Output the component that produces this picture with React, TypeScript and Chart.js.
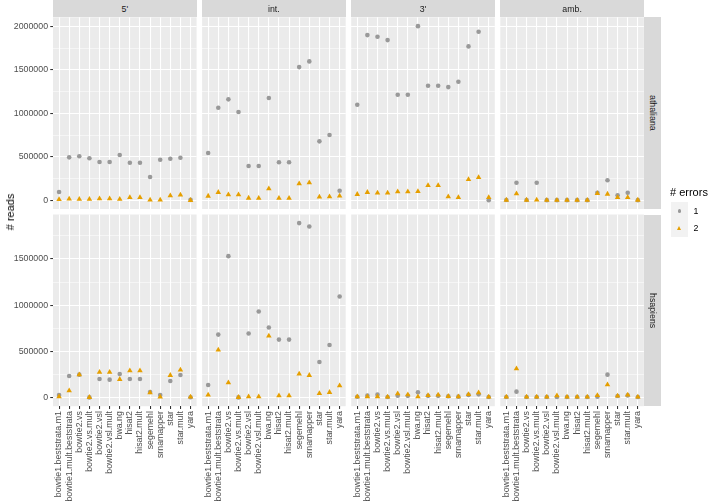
import React, { useEffect, useRef } from "react";
import { Chart, registerables } from "chart.js";

Chart.register(...registerables);

const categories = [
  "bowtie1.beststrata.m1",
  "bowtie1.mult.beststrata",
  "bowtie2.vs",
  "bowtie2.vs.mult",
  "bowtie2.vsl",
  "bowtie2.vsl.mult",
  "bwa.ng",
  "hisat2",
  "hisat2.mult",
  "segemehl",
  "srnamapper",
  "star",
  "star.mult",
  "yara",
];
const regions = ["5'", "int.", "3'", "amb."];
const species = ["athaliana", "hsapiens"];
const errorLevels = ["1", "2"];

// athaliana
const athal5pErr1 = [95000, 494000, 506000, 483000, 440000, 440000, 521000, 432000, 432000, 268000, 467000, 478000, 490000, 5000];
const athal5pErr2 = [10000, 15000, 12000, 12000, 18000, 18000, 12000, 34000, 34000, 5000, 5000, 53000, 61000, 0];
const athalIntErr1 = [544000, 1064000, 1161000, 1015000, 394000, 394000, 1176000, 437000, 437000, 1532000, 1598000, 678000, 751000, 110000];
const athalIntErr2 = [49000, 92000, 64000, 64000, 26000, 25000, 134000, 25000, 25000, 191000, 203000, 38000, 42000, 50000];
const athal3pErr1 = [1099000, 1900000, 1881000, 1843000, 1214000, 1214000, 2003000, 1317000, 1317000, 1302000, 1363000, 1770000, 1938000, 2000];
const athal3pErr2 = [69000, 92000, 84000, 84000, 99000, 99000, 103000, 172000, 172000, 42000, 34000, 241000, 264000, 34000];
const athalAmbErr1 = [3000, 202000, 3000, 202000, 2000, 2000, 2000, 2000, 2000, 87000, 230000, 57000, 87000, 2000];
const athalAmbErr2 = [3000, 76000, 3000, 5000, 1000, 1000, 1000, 1000, 1000, 80000, 72000, 34000, 34000, 3000];

// hsapiens
const hsap5pErr1 = [29000, 235000, 249000, 3000, 202000, 195000, 256000, 202000, 202000, 62000, 29000, 181000, 246000, 5000];
const hsap5pErr2 = [11000, 76000, 249000, 4000, 275000, 275000, 199000, 292000, 292000, 54000, 8000, 242000, 300000, 8000];
const hsapIntErr1 = [137000, 682000, 1530000, 3000, 693000, 931000, 758000, 628000, 628000, 1887000, 1851000, 386000, 570000, 1093000];
const hsapIntErr2 = [29000, 516000, 163000, 4000, 11000, 11000, 668000, 22000, 22000, 256000, 242000, 47000, 58000, 130000];
const hsap3pErr1 = [10000, 22000, 33000, 8000, 22000, 20000, 58000, 20000, 20000, 15000, 11000, 30000, 36000, 8000];
const hsap3pErr2 = [10000, 11000, 11000, 8000, 43000, 33000, 11000, 25000, 29000, 15000, 11000, 36000, 54000, 8000];
const hsapAmbErr1 = [8000, 65000, 8000, 8000, 8000, 8000, 8000, 8000, 8000, 11000, 249000, 18000, 25000, 8000];
const hsapAmbErr2 = [8000, 314000, 8000, 8000, 8000, 22000, 8000, 8000, 8000, 25000, 141000, 18000, 29000, 8000];

const athalTicks = [0, 500000, 1000000, 1500000, 2000000];
const hsapTicks = [0, 500000, 1000000, 1500000];

const series = [
  [
    [athal5pErr1, athal5pErr2],
    [athalIntErr1, athalIntErr2],
    [athal3pErr1, athal3pErr2],
    [athalAmbErr1, athalAmbErr2],
  ],
  [
    [hsap5pErr1, hsap5pErr2],
    [hsapIntErr1, hsapIntErr2],
    [hsap3pErr1, hsap3pErr2],
    [hsapAmbErr1, hsapAmbErr2],
  ],
];
const rowTicks = [athalTicks, hsapTicks];
const rowRange = [
  [-100000, 2105000],
  [-92000, 1980000],
];

// layout
const W = 708;
const H = 502;
const PANEL_LEFT = [53, 202.1, 351.2, 500.3];
const PANEL_W = 143.6;
const ROW_TOP = [17.3, 214.5];
const ROW_H = 191.7;
const FONT = "'Liberation Sans', Arial, Helvetica, sans-serif";

Chart.defaults.font.family = FONT;

const bgPlugin = {
  id: "panelBg",
  beforeDraw(chart: any) {
    const { ctx, chartArea } = chart;
    ctx.save();
    ctx.fillStyle = "#ebebeb";
    ctx.fillRect(chartArea.left, chartArea.top, chartArea.right - chartArea.left, chartArea.bottom - chartArea.top);
    ctx.restore();
  },
};

function withMinor(ticks: number[], max: number) {
  const out: number[] = [];
  const step = ticks[1] - ticks[0];
  for (let i = 0; i < ticks.length; i++) {
    out.push(ticks[i]);
    if (ticks[i] + step / 2 <= max) out.push(ticks[i] + step / 2);
  }
  return out;
}

function Panel({ row, col }: { row: number; col: number }) {
  const ref = useRef<HTMLCanvasElement>(null);
  useEffect(() => {
    const left = PANEL_LEFT[col];
    const top = ROW_TOP[row];
    const bottomSpace = H - top - ROW_H;
    const [e1, e2] = series[row][col];
    const [ymin, ymax] = rowRange[row];
    const majors = rowTicks[row];
    const allY = withMinor(majors, ymax);
    const isMajor = (v: number) => majors.indexOf(v) >= 0;
    const showY = col === 0;
    const showX = row === 1;
    const chart = new Chart(ref.current!, {
      type: "scatter",
      data: {
        datasets: [
          {
            label: errorLevels[0],
            data: e1.map((v, i) => ({ x: i, y: v })),
            pointStyle: "circle",
            pointRadius: 2.3,
            backgroundColor: "#999999",
            borderWidth: 0,
            order: 2,
          },
          {
            label: errorLevels[1],
            data: e2.map((v, i) => ({ x: i, y: v })),
            pointStyle: "triangle",
            pointRadius: 3.2,
            backgroundColor: "#E69F00",
            borderWidth: 0,
            order: 1,
          },
        ],
      },
      options: {
        animation: false,
        responsive: false,
        events: [],
        layout: {
          padding: {
            left: showY ? 0 : left,
            top: top,
            right: W - left - PANEL_W,
            bottom: showX ? 0 : bottomSpace,
          },
        },
        plugins: {
          legend: { display: false },
          tooltip: { enabled: false },
        },
        scales: {
          x: {
            type: "linear",
            min: -0.6,
            max: categories.length - 1 + 0.6,
            afterBuildTicks: (ax: any) => {
              ax.ticks = categories.map((_, i) => ({ value: i }));
            },
            afterFit: (s: any) => {
              s.height = showX ? bottomSpace : 0;
            },
            border: { display: false },
            grid: {
              color: "#ffffff",
              lineWidth: 1.07,
              drawTicks: showX,
              tickLength: 2.75,
              tickColor: "#333333",
              tickWidth: 1.07,
            },
            ticks: {
              display: showX,
              autoSkip: false,
              minRotation: 90,
              maxRotation: 90,
              padding: 2.2,
              color: "#4d4d4d",
              font: { family: FONT, size: 8.8 },
              callback: (v: any) => categories[v as number],
            },
          },
          y: {
            type: "linear",
            min: ymin,
            max: ymax,
            afterBuildTicks: (ax: any) => {
              ax.ticks = allY.map((v) => ({ value: v }));
            },
            afterFit: (s: any) => {
              s.width = showY ? left : 0;
            },
            border: { display: false },
            grid: {
              color: "#ffffff",
              lineWidth: (ctx: any) => (ctx.tick && isMajor(ctx.tick.value) ? 1.07 : 0.53),
              drawTicks: showY,
              tickLength: 2.75,
              tickColor: (ctx: any) => (ctx.tick && isMajor(ctx.tick.value) ? "#333333" : "rgba(0,0,0,0)"),
              tickWidth: 1.07,
            },
            ticks: {
              display: showY,
              autoSkip: false,
              padding: 2.2,
              color: "#4d4d4d",
              font: { family: FONT, size: 8.8 },
              callback: (v: any) => (isMajor(v as number) ? String(v) : ""),
            },
          },
        },
      },
      plugins: [bgPlugin],
    });
    return () => chart.destroy();
  }, [row, col]);
  return (
    <canvas
      ref={ref}
      width={W}
      height={H}
      style={{ position: "absolute", left: 0, top: 0, width: W, height: H }}
    />
  );
}

export default function App() {
  const panels: React.ReactNode[] = [];
  for (let r = 0; r < 2; r++) for (let c = 0; c < 4; c++) panels.push(<Panel key={`${r}-${c}`} row={r} col={c} />);
  const stripText: React.CSSProperties = {
    position: "absolute",
    background: "#d9d9d9",
    color: "#1a1a1a",
    fontSize: 8.8,
    fontFamily: FONT,
    display: "flex",
    alignItems: "center",
    justifyContent: "center",
    overflow: "hidden",
  };
  return (
    <div style={{ position: "absolute", left: 0, top: 0, width: W, height: H, background: "#ffffff", fontFamily: FONT }}>
      {panels}
      {regions.map((r, i) => (
        <div key={r} style={{ ...stripText, left: PANEL_LEFT[i], top: 0, width: PANEL_W, height: ROW_TOP[0] }}>
          {r}
        </div>
      ))}
      {species.map((s, i) => (
        <div
          key={s}
          style={{
            ...stripText,
            left: PANEL_LEFT[3] + PANEL_W,
            top: ROW_TOP[i],
            width: 17.6,
            height: ROW_H,
          }}
        >
          <span style={{ writingMode: "vertical-rl", whiteSpace: "nowrap" }}>{s}</span>
        </div>
      ))}
      <div
        style={{
          position: "absolute",
          left: 10,
          top: (ROW_TOP[0] + ROW_TOP[1] + ROW_H) / 2,
          transform: "translate(-50%, -50%) rotate(-90deg)",
          fontSize: 11,
          color: "#000",
          whiteSpace: "nowrap",
        }}
      >
        # reads
      </div>
      <div style={{ position: "absolute", left: 670, top: 186, fontSize: 11, color: "#000", whiteSpace: "nowrap" }}># errors</div>
      {errorLevels.map((lv, i) => (
        <React.Fragment key={lv}>
          <div
            style={{
              position: "absolute",
              left: 670.7,
              top: 202.3 + i * 17.3,
              width: 17.3,
              height: 17.3,
              background: "#f2f2f2",
              display: "flex",
              alignItems: "center",
              justifyContent: "center",
            }}
          >
            {i === 0 ? (
              <div style={{ width: 3.5, height: 3.5, borderRadius: "50%", background: "#999999" }} />
            ) : (
              <div
                style={{
                  width: 0,
                  height: 0,
                  borderLeft: "2.4px solid transparent",
                  borderRight: "2.4px solid transparent",
                  borderBottom: "4.2px solid #E69F00",
                }}
              />
            )}
          </div>
          <div
            style={{
              position: "absolute",
              left: 693.5,
              top: 202.3 + i * 17.3,
              height: 17.3,
              display: "flex",
              alignItems: "center",
              fontSize: 8.8,
              color: "#000",
            }}
          >
            {lv}
          </div>
        </React.Fragment>
      ))}
    </div>
  );
}
